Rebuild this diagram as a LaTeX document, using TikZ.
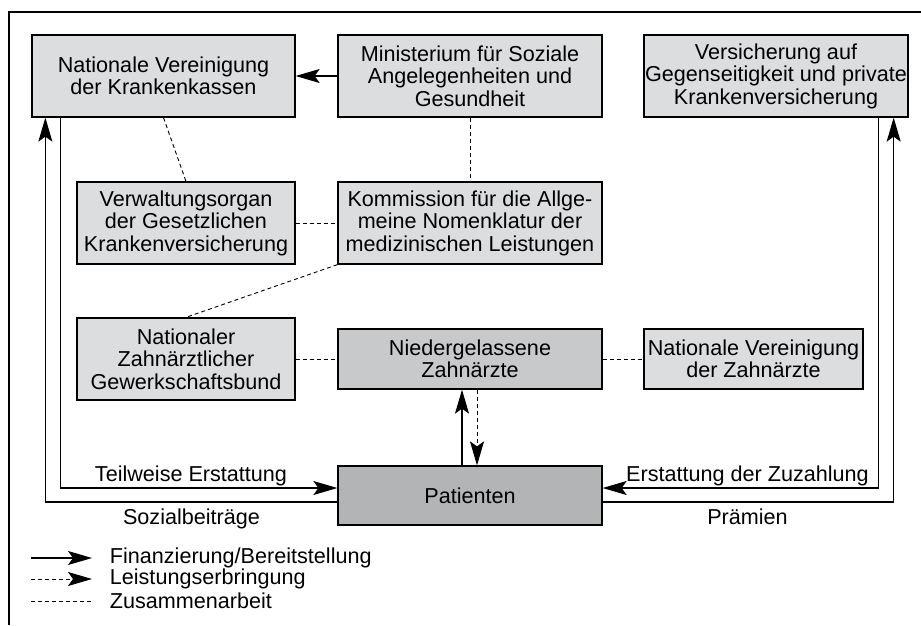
\documentclass[tikz,border=0pt]{standalone}
\usepackage{fontspec}
\setmainfont{Liberation Sans}
\usetikzlibrary{arrows.meta}
\definecolor{boxhell}{RGB}{220,221,223}
\definecolor{boxmittel}{RGB}{200,201,203}
\definecolor{boxdunkel}{RGB}{179,180,182}

\begin{document}
\begin{tikzpicture}[x=1pt, y=-1pt, >={Stealth[length=24pt,width=14pt,inset=5pt]}, line width=1.1pt,
		every node/.style={font=\fontsize{21.6}{22.5}\selectfont},
		kasten/.style={draw, line width=1.3pt, fill=boxhell, align=center, inner sep=0pt, minimum width=264pt, minimum height=82pt},
		fin/.style={->},
		leist/.style={->, dash pattern=on 4pt off 3pt, line width=0.9pt},
		zusam/.style={dash pattern=on 4pt off 3pt, line width=0.9pt}]
	\useasboundingbox (0,0) rectangle (921,625);
	
	% 1. Rahmen (oben und links)
	\draw[line width=1.4pt] (921,12) -- (9,12) -- (9,625);
	
	% 2. Kaesten
	\node[kasten, minimum width=263pt] (kassen) at (163.5,76) {Nationale Vereinigung\\der Krankenkassen};
	\node[kasten] (minist) at (470,76) {Ministerium für Soziale\\Angelegenheiten und\\Gesundheit};
	\node[kasten] (privat) at (776,76) {Versicherung auf\\Gegenseitigkeit und private\\Krankenversicherung};
	\node[kasten, minimum width=218pt] (verwalt) at (186,223) {Verwaltungsorgan\\der Gesetzlichen\\Krankenversicherung};
	\node[kasten] (komm) at (470,223) {Kommission für die Allge-\\meine Nomenklatur der\\medizinischen Leistungen};
	\node[kasten, minimum width=218pt] (gewerk) at (186,359) {Nationaler\\Zahnärztlicher\\Gewerkschaftsbund};
	\node[kasten, fill=boxmittel, minimum height=60pt] (zahn) at (470,359) {Niedergelassene\\Zahnärzte};
	\node[kasten, minimum width=219pt, minimum height=60pt] (nvz) at (753.5,359) {Nationale Vereinigung\\der Zahnärzte};
	\node[kasten, fill=boxdunkel, minimum height=59pt] (pat) at (470,495.5) {Patienten};
	
	% 3. Zusammenarbeit
	\draw[zusam] (kassen.south) -- (verwalt.north);
	\draw[zusam] (minist.south) -- (komm.north);
	\draw[zusam] (verwalt.east) -- (komm.west);
	\draw[zusam] (komm.south west) -- (gewerk.north);
	\draw[zusam] (gewerk.east) -- (zahn.west);
	\draw[zusam] (zahn.east) -- (nvz.west);
	
	% 4. Geldfluesse und Leistungen
	\draw[fin] (minist) -- (kassen);
	\draw[fin] ([xshift=-8pt]pat.north) -- ([xshift=-8pt]zahn.south);
	\draw[leist] ([xshift=7pt]zahn.south) -- ([xshift=7pt]pat.north);
	\draw[fin] ([xshift=29pt]kassen.south west) |- ([yshift=7.5pt]pat.west);
	\draw[fin] ([yshift=-6.5pt]pat.west) -| ([xshift=14pt]kassen.south west);
	\draw[fin] ([xshift=-30pt]privat.south east) |- ([yshift=7.5pt]pat.east);
	\draw[fin] ([yshift=-6.5pt]pat.east) -| ([xshift=-15pt]privat.south east);
	
	% 5. Beschriftungen
	\node[anchor=base] (teil) at (191,481) {Teilweise Erstattung};
	\node[anchor=base] (sozial) at (191.5,524) {Sozialbeiträge};
	\node[anchor=base] (zuzahl) at (747.5,481) {Erstattung der Zuzahlung};
	\node[anchor=base] (praem) at (747.5,524) {Prämien};
	
	% 6. Legende
	\draw[fin] (31,558) -- (92,558);
	\draw[leist] (31,579) -- (92,579);
	\draw[zusam] (31,601) -- (92,601);
	\node[anchor=west] (lfin) at (106,558) {Finanzierung/Bereitstellung};
	\node[anchor=west] (lleist) at (106,579) {Leistungserbringung};
	\node[anchor=west] (lzusam) at (106,601) {Zusammenarbeit};
\end{tikzpicture}
\end{document}
